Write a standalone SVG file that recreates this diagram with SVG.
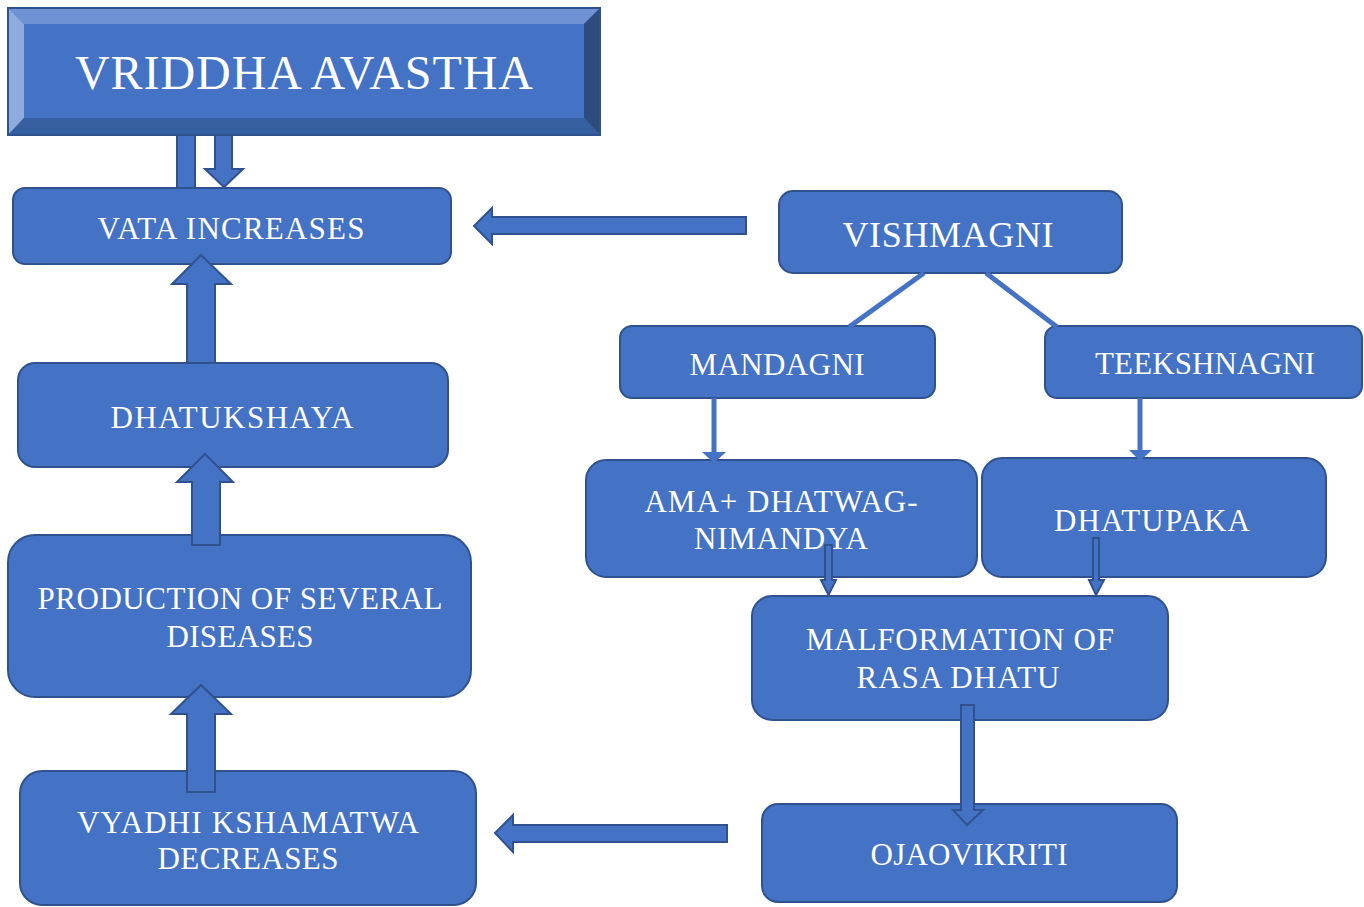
<svg xmlns="http://www.w3.org/2000/svg" width="1364" height="907" viewBox="0 0 1364 907">
<style>
.box{fill:#4472c4;stroke:#2f528f;stroke-width:2}
.t{fill:#ffffff;font-family:"Liberation Serif","Times New Roman",serif;font-size:31px;text-anchor:middle}
.blk{fill:#4472c4;stroke:#2f528f;stroke-width:2;stroke-linejoin:miter}
.ln{stroke:#4472c4;stroke-width:5;fill:none}
.lh{fill:#4472c4;stroke:none}
</style>
<rect width="1364" height="907" fill="#ffffff"/>
<g id="title">
  <rect x="8" y="8" width="592" height="127" fill="#4472c4"/>
  <polygon points="8,8 600,8 584,24 24,24" fill="#6e92d3"/>
  <polygon points="8,8 24,24 24,118 8,135" fill="#8faadc"/>
  <polygon points="600,8 600,135 584,118 584,24" fill="#2e4b7d"/>
  <polygon points="8,135 600,135 584,118 24,118" fill="#365f9f"/>
  <rect x="24" y="24" width="560" height="94" fill="#4472c4"/>
  <rect x="8" y="8" width="592" height="127" fill="none" stroke="#2f528f" stroke-width="2"/>
  <text x="304" y="89" class="t" style="font-size:48px" textLength="458" lengthAdjust="spacing">VRIDDHA AVASTHA</text>
</g>
<g id="vata">
  <rect class="box" x="13" y="188" width="438" height="76" rx="12"/>
  <text class="t" x="231" y="239" textLength="267" lengthAdjust="spacing">VATA INCREASES</text>
</g>
<g id="vishmagni">
  <rect class="box" x="779" y="191" width="343" height="82" rx="14"/>
  <text class="t" x="948" y="247" style="font-size:36px" textLength="211" lengthAdjust="spacing">VISHMAGNI</text>
</g>
<g id="mandagni">
  <rect class="box" x="620" y="326" width="315" height="72" rx="12"/>
  <text class="t" x="777" y="375" textLength="175" lengthAdjust="spacing">MANDAGNI</text>
</g>
<g id="teekshnagni">
  <rect class="box" x="1045" y="326" width="317" height="72" rx="12"/>
  <text class="t" x="1205" y="374" textLength="220" lengthAdjust="spacing">TEEKSHNAGNI</text>
</g>
<g id="dhatukshaya">
  <rect class="box" x="18" y="363" width="430" height="104" rx="17"/>
  <text class="t" x="232" y="428" textLength="243" lengthAdjust="spacing">DHATUKSHAYA</text>
</g>
<g id="ama">
  <rect class="box" x="586" y="460" width="391" height="117" rx="20"/>
  <text class="t" x="781" y="512" textLength="273" lengthAdjust="spacing">AMA+ DHATWAG-</text>
  <text class="t" x="781" y="549" textLength="174" lengthAdjust="spacing">NIMANDYA</text>
</g>
<g id="dhatupaka">
  <rect class="box" x="982" y="458" width="344" height="119" rx="20"/>
  <text class="t" x="1152" y="531" textLength="196" lengthAdjust="spacing">DHATUPAKA</text>
</g>
<g id="production">
  <rect class="box" x="8" y="535" width="463" height="162" rx="27"/>
  <text class="t" x="240" y="609" textLength="405" lengthAdjust="spacing">PRODUCTION OF SEVERAL</text>
  <text class="t" x="240" y="647" textLength="147" lengthAdjust="spacing">DISEASES</text>
</g>
<g id="malformation">
  <rect class="box" x="752" y="596" width="416" height="124" rx="20"/>
  <text class="t" x="960" y="650" textLength="308" lengthAdjust="spacing">MALFORMATION OF</text>
  <text class="t" x="958" y="688" textLength="203" lengthAdjust="spacing">RASA DHATU</text>
</g>
<g id="vyadhi">
  <rect class="box" x="20" y="771" width="456" height="134" rx="22"/>
  <text class="t" x="248" y="833" textLength="342" lengthAdjust="spacing">VYADHI KSHAMATWA</text>
  <text class="t" x="248" y="869" textLength="181" lengthAdjust="spacing">DECREASES</text>
</g>
<g id="ojaovikriti">
  <rect class="box" x="762" y="804" width="415" height="98" rx="16"/>
  <text class="t" x="969" y="865" textLength="197" lengthAdjust="spacing">OJAOVIKRITI</text>
</g>
<g id="connectors">
  <rect class="blk" x="177" y="135" width="18" height="53"/>
  <polygon class="blk" points="215,135 232,135 232,169 243,169 224,187 205,169 215,169"/>
  <polygon class="blk" points="746,217 746,234 492,234 492,244 474,226 492,208 492,217"/>
  <line class="ln" x1="924" y1="273" x2="849" y2="327"/>
  <line class="ln" x1="986" y1="273" x2="1057" y2="327"/>
  <line class="ln" x1="714" y1="398" x2="714" y2="454"/>
  <polygon class="lh" points="702,452 726,452 714,463"/>
  <line class="ln" x1="1140" y1="398" x2="1140" y2="452"/>
  <polygon class="lh" points="1129,450 1152,450 1140,461"/>
  <polygon class="blk" points="825,545 832,545 832,580 836,580 828.5,595 821,580 825,580"/>
  <polygon class="blk" points="1093,538 1099,538 1099,580 1104,580 1096,595 1089,580 1093,580"/>
  <polygon class="blk" points="187,363 215,363 215,284 231,284 201,255 172,284 187,284"/>
  <polygon class="blk" points="192,545 220,545 220,482 233,482 205,454 177,482 192,482"/>
  <polygon class="blk" points="187,792 215,792 215,714 231,714 201,685 171,714 187,714"/>
  <polygon class="blk" points="961,705 974,705 974,810 983,810 967,825 953,810 961,810"/>
  <polygon class="blk" points="727,825 727,842 513,842 513,852 495,833 513,815 513,825"/>
</g>
</svg>
